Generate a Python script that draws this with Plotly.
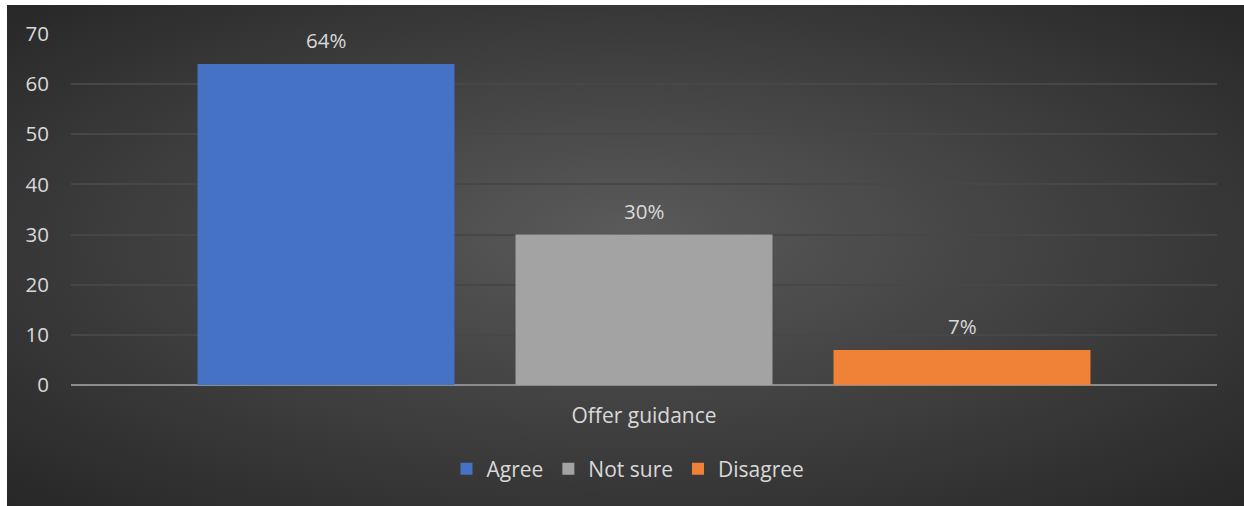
import base64
import plotly.graph_objects as go

categories = ["Offer guidance"]
series_names = ["Agree", "Not sure", "Disagree"]
series_values = [[64], [30], [7]]
series_labels = ["64%", "30%", "7%"]
colors = ["#4672c6", "#a3a3a3", "#f08238"]
y_ticks = [0, 10, 20, 30, 40, 50, 60, 70]

W, H = 1244, 506
L, R, T, B = 71, 27, 34, 121
plot_w = W - L - R
plot_h = H - T - B

bargap = 0.1675
bargroupgap = 0.192

FONT = "Open Sans"
TXT = "#d9d9d9"

fig = go.Figure()
for name, vals, col in zip(series_names, series_values, colors):
    fig.add_trace(go.Bar(name=name, x=categories, y=vals, marker=dict(color=col, line=dict(width=0))))

# value labels at bar centres derived from the bar layout parameters
n = len(series_names)
slot = (1 - bargap) / n
annotations = []
for i, (vals, lab) in enumerate(zip(series_values, series_labels)):
    xc = -0.5 * (1 - bargap) + slot * (i + 0.5)
    annotations.append(dict(x=xc, y=vals[0], xref="x", yref="y", text=lab, showarrow=False,
                            yshift=24, font=dict(family=FONT, size=20.5, color=TXT)))

# background radial gradient as an SVG image
svg = '''<svg xmlns="http://www.w3.org/2000/svg" width="1237" height="501" viewBox="0 0 1237 501" preserveAspectRatio="none">
<defs><radialGradient id="g" cx="50%" cy="50%" r="75%" fx="50%" fy="45%">
<stop offset="0%" stop-color="#5a5a5a"/><stop offset="100%" stop-color="#242424"/></radialGradient></defs>
<rect width="1237" height="501" fill="url(#g)"/></svg>'''
src = "data:image/svg+xml;base64," + base64.b64encode(svg.encode()).decode()

fig.update_layout(
    width=W, height=H,
    margin=dict(l=L, r=R, t=T, b=B),
    paper_bgcolor="white",
    plot_bgcolor="rgba(0,0,0,0)",
    barmode="group",
    bargap=bargap,
    bargroupgap=bargroupgap,
    font=dict(family=FONT, color=TXT),
    images=[dict(source=src, xref="paper", yref="paper",
                 x=(7 - L) / plot_w, y=(T + plot_h - 5) / plot_h,
                 sizex=1237 / plot_w, sizey=501 / plot_h,
                 xanchor="left", yanchor="top", sizing="stretch", layer="below")],
    annotations=annotations,
    showlegend=True,
    legend=dict(orientation="h", x=(628 - L) / plot_w, xanchor="center",
                y=(385 - 469) / plot_h, yanchor="middle",
                font=dict(family=FONT, size=21, color=TXT),
                bgcolor="rgba(0,0,0,0)", itemwidth=30, traceorder="normal"),
    xaxis=dict(showgrid=False, showline=False, zeroline=False, ticks="",
               tickfont=dict(family=FONT, size=21, color=TXT), ticklabelstandoff=16),
    yaxis=dict(range=[0, 70], tickvals=y_ticks, showgrid=True, gridcolor="#474747", gridwidth=2,
               zeroline=True, zerolinecolor="#8c8c8c", zerolinewidth=2, showline=False, ticks="",
               tickfont=dict(family=FONT, size=20.5, color=TXT), ticklabelstandoff=21),
)

fig.write_html("out.html", config={"displayModeBar": False},
               post_script="document.body.style.margin='0';")
